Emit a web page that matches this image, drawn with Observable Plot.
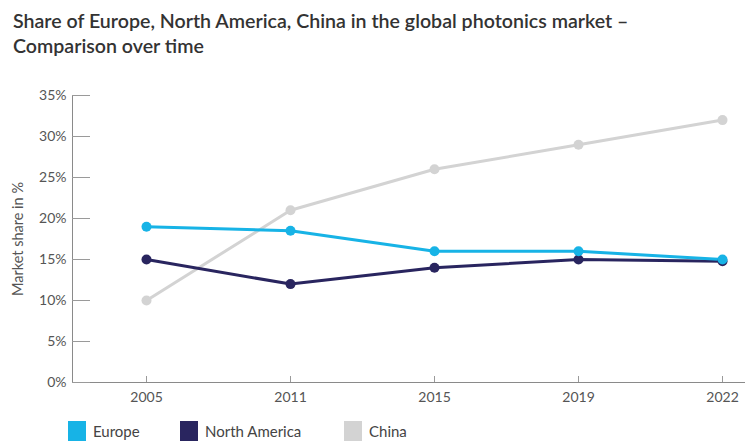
<!DOCTYPE html>
<html>
<head>
<meta charset="utf-8">
<script src="https://cdn.jsdelivr.net/npm/d3@7"></script>
<script src="https://cdn.jsdelivr.net/npm/@observablehq/plot@0.6"></script>
<style>
  html, body { margin: 0; padding: 0; background: #fff; overflow: hidden; }
  body { width: 745px; height: 441px; position: relative; font-family: Lato, "Open Sans", sans-serif; }
  #title { position: absolute; left: 13px; top: 8px; font-size: 19.6px; font-weight: 600; color: #333; line-height: 25px; }
  #chart { position: absolute; left: 0; top: 70px; }
  #legend { position: absolute; left: 68px; top: 421px; display: flex; font-size: 15px; color: #444; }
  .item { display: flex; align-items: flex-start; }
  .sw { width: 18px; height: 20px; margin-right: 7px; }
</style>
</head>
<body>
<div id="title">Share of Europe, North America, China in the global photonics market –<br>Comparison over time</div>
<div id="chart"></div>
<div id="legend"></div>
<script>
const years = ["2005", "2011", "2015", "2019", "2022"];
const europe = [19, 18.5, 16, 16, 15];
const northAmerica = [15, 12, 14, 15, 14.8];
const china = [10, 21, 26, 29, 32];
const yTicks = [0, 5, 10, 15, 20, 25, 30, 35];
const seriesNames = ["China", "North America", "Europe"];
const seriesColors = {"Europe": "#17b3e6", "North America": "#29255f", "China": "#d3d3d3"};
const legendOrder = ["Europe", "North America", "China"];

const seriesValues = {"Europe": europe, "North America": northAmerica, "China": china};
const rows = seriesNames.flatMap(s => years.map((y, i) => ({series: s, year: y, value: seriesValues[s][i]})));

const W = 745, H = 345, ML = 72, MR = 0, MT = 25, MB = 33;
const plot = Plot.plot({
  width: W, height: H,
  marginLeft: ML, marginRight: MR, marginTop: MT, marginBottom: MB,
  style: {fontFamily: "Lato, 'Open Sans', sans-serif", fontSize: "14px", color: "#555", background: "transparent"},
  x: {type: "point", domain: years, range: [145, 722], padding: 0, label: null},
  y: {domain: [0, 35], label: null},
  color: {domain: legendOrder, range: legendOrder.map(s => seriesColors[s])},
  marks: [
    Plot.frame({anchor: "left", stroke: "#8a8a8a"}),
    Plot.ruleY([0], {stroke: "#8a8a8a"}),
    Plot.axisY(yTicks, {tickSize: 18, dx: 18, text: null, stroke: "#9a9a9a", label: null}),
    Plot.axisY(yTicks, {tickSize: 0, tickPadding: 6, tickFormat: d => d + "%", fill: "#555", fontSize: 14, label: null}),
    Plot.axisX(years, {tickSize: 6, dy: -6, text: null, stroke: "#9a9a9a", label: null}),
    Plot.axisX(years, {tickSize: 0, tickPadding: 10, fill: "#555", fontSize: 14, label: null}),
    Plot.text(["Market share in %"], {frameAnchor: "left", textAnchor: "middle", dx: -54, rotate: -90, fill: "#555", fontSize: 14.5}),
    Plot.line(rows, {x: "year", y: "value", z: "series", stroke: d => d.series, strokeWidth: 3}),
    Plot.dot(rows, {x: "year", y: "value", fill: d => d.series, r: 5})
  ]
});
document.getElementById("chart").appendChild(plot);

const legend = document.getElementById("legend");
const gaps = {"Europe": 112, "North America": 164, "China": 120};
legendOrder.forEach(s => {
  const it = document.createElement("div");
  it.className = "item";
  it.style.width = gaps[s] + "px";
  const sw = document.createElement("div");
  sw.className = "sw";
  sw.style.background = seriesColors[s];
  const t = document.createElement("span");
  t.textContent = s;
  t.style.lineHeight = "18px";
  t.style.marginTop = "1px";
  it.appendChild(sw); it.appendChild(t);
  legend.appendChild(it);
});
</script>
</body>
</html>
